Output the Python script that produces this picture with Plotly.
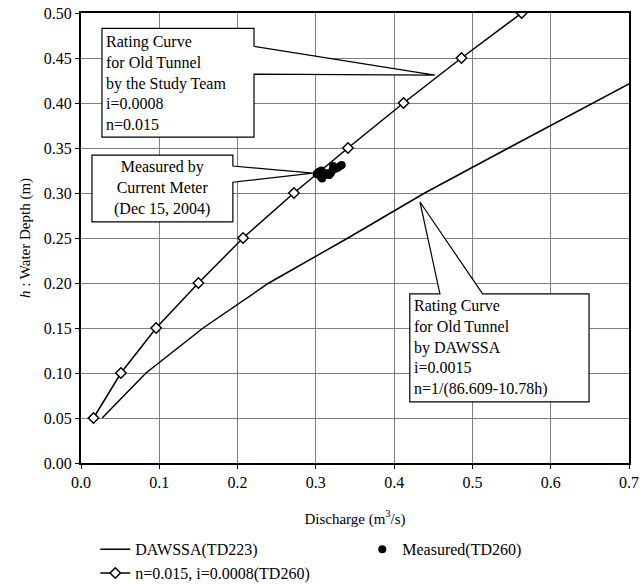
import plotly.graph_objects as go

# ---- data ----
depth_levels = [0.05, 0.10, 0.15, 0.20, 0.25, 0.30, 0.35, 0.40, 0.45, 0.50]
study_q = [0.016, 0.051, 0.096, 0.150, 0.207, 0.272, 0.341, 0.412, 0.486, 0.563]

dawssa_h = [0.05, 0.10, 0.15, 0.20, 0.25, 0.30, 0.35, 0.40, 0.45]
dawssa_q = [0.027, 0.083, 0.156, 0.240, 0.341, 0.439, 0.546, 0.654, 0.762]

measured_q = [0.301, 0.303, 0.305, 0.307, 0.309, 0.306, 0.308, 0.312, 0.315,
              0.317, 0.319, 0.321, 0.322, 0.325, 0.328, 0.331, 0.333]
measured_h = [0.321, 0.323, 0.324, 0.325, 0.323, 0.318, 0.316, 0.320, 0.322,
              0.320, 0.322, 0.325, 0.330, 0.327, 0.328, 0.330, 0.331]

FONT = "Times New Roman, Liberation Serif, DejaVu Serif, serif"

fig = go.Figure()
fig.add_trace(go.Scatter(x=dawssa_q, y=dawssa_h, mode="lines", name="DAWSSA(TD223)",
                         line=dict(color="black", width=1.5), legendrank=1))
fig.add_trace(go.Scatter(x=study_q, y=depth_levels, mode="lines+markers",
                         name="n=0.015, i=0.0008(TD260)",
                         line=dict(color="black", width=1.5),
                         marker=dict(symbol="diamond", size=8, color="white",
                                     line=dict(color="black", width=1.5)),
                         legendrank=3))
fig.add_trace(go.Scatter(x=measured_q, y=measured_h, mode="markers", name="Measured(TD260)",
                         marker=dict(color="black", size=8), legendrank=2))

def poly(pts):
    return "M " + " L ".join(f"{x},{y}" for x, y in pts) + " Z"

callouts = [
    [(0.0268, 0.483), (0.221, 0.483), (0.221, 0.463), (0.452, 0.431),
     (0.221, 0.432), (0.221, 0.362), (0.0268, 0.362)],
    [(0.014, 0.342), (0.194, 0.342), (0.194, 0.330), (0.296, 0.322),
     (0.194, 0.312), (0.194, 0.268), (0.014, 0.268)],
    [(0.420, 0.188), (0.4585, 0.188), (0.433, 0.290), (0.513, 0.188),
     (0.649, 0.188), (0.649, 0.068), (0.420, 0.068)],
]
shapes = [dict(type="path", path=poly(p), xref="x", yref="y", fillcolor="white",
               line=dict(color="black", width=1.2), layer="above") for p in callouts]

annotations = [
    dict(x=0.030, y=0.4225, xref="x", yref="y", xanchor="left", yanchor="middle", align="left",
         showarrow=False, font=dict(family=FONT, size=16, color="black"),
         text="Rating Curve<br>for Old Tunnel<br>by the Study Team<br>i=0.0008<br>n=0.015"),
    dict(x=0.104, y=0.306, xref="x", yref="y", xanchor="center", yanchor="middle", align="center",
         showarrow=False, font=dict(family=FONT, size=16, color="black"),
         text="Measured by<br>Current Meter<br>(Dec 15, 2004)"),
    dict(x=0.423, y=0.128, xref="x", yref="y", xanchor="left", yanchor="middle", align="left",
         showarrow=False, font=dict(family=FONT, size=16, color="black"),
         text="Rating Curve<br>for Old Tunnel<br>by DAWSSA<br>i=0.0015<br>n=1/(86.609-10.78h)"),
]

fig.update_layout(
    width=642, height=585,
    margin=dict(l=81, r=13, t=13, b=122, autoexpand=False),
    paper_bgcolor="white", plot_bgcolor="white",
    font=dict(family=FONT, size=16, color="black"),
    shapes=shapes, annotations=annotations,
    showlegend=True,
    legend=dict(orientation="h", x=0.026, y=-0.154, xanchor="left", yanchor="top",
                entrywidth=222, entrywidthmode="pixels",
                font=dict(family=FONT, size=16, color="black"),
                bgcolor="rgba(0,0,0,0)", tracegroupgap=0),
)
fig.update_xaxes(range=[0, 0.7], dtick=0.1, tickformat=".1f",
                 showgrid=True, gridcolor="#808080", gridwidth=1,
                 showline=True, linecolor="black", linewidth=2, mirror=True,
                 ticks="outside", ticklen=4, tickcolor="black", zeroline=False,
                 title=dict(text="Discharge (m<sup>3</sup>/s)", font=dict(family=FONT, size=15),
                            standoff=23),
                 tickfont=dict(family=FONT, size=16))
fig.update_yaxes(range=[0, 0.5], dtick=0.05, tickformat=".2f",
                 showgrid=True, gridcolor="#808080", gridwidth=1,
                 showline=True, linecolor="black", linewidth=2, mirror=True,
                 ticks="outside", ticklen=4, tickcolor="black", zeroline=False,
                 title=dict(text="<i>h</i> : Water Depth (m)", font=dict(family=FONT, size=15),
                            standoff=10),
                 tickfont=dict(family=FONT, size=16))

fig.write_html("out.html", config={"displayModeBar": False},
               post_script="document.body.style.margin='0';")
